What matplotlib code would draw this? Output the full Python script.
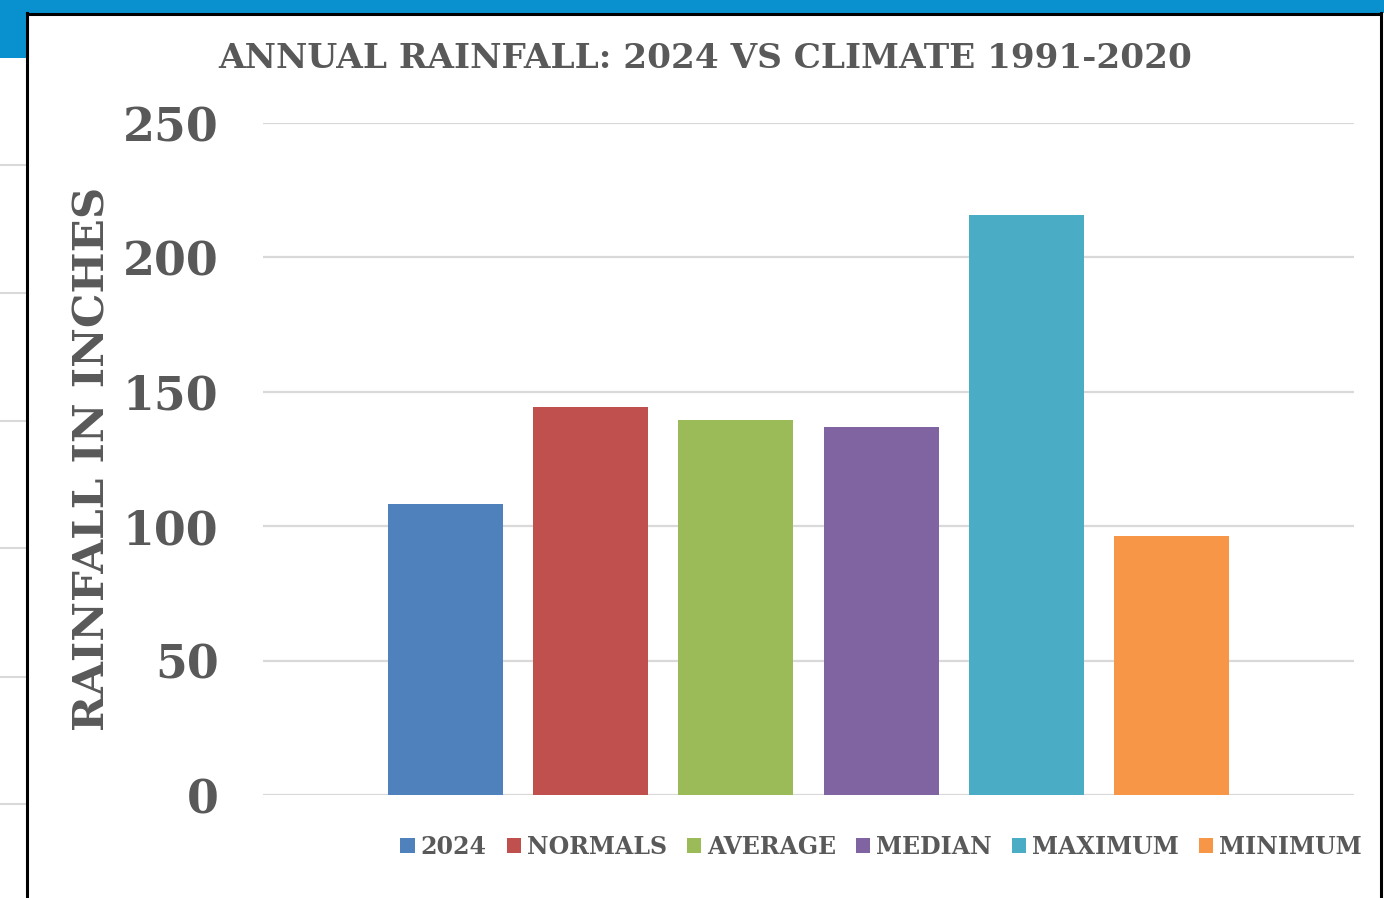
import matplotlib
matplotlib.use("Agg")
import matplotlib.pyplot as plt
from matplotlib.patches import Rectangle
from matplotlib.lines import Line2D

series = ["2024", "NORMALS", "AVERAGE", "MEDIAN", "MAXIMUM", "MINIMUM"]
rainfall = [108.3, 144.3, 139.5, 136.9, 215.8, 96.4]
colors = ["#4F81BD", "#C0504D", "#9BBB59", "#8064A2", "#4BACC6", "#F79646"]
yticks = [0, 50, 100, 150, 200, 250]

TXT = "#595959"
FONT = "DejaVu Serif"

W, H = 1384, 898
fig = plt.figure(figsize=(W / 100, H / 100), dpi=100)
fig.patch.set_facecolor("white")

# screenshot surroundings: blue band and black chart frame
fig.add_artist(Rectangle((0, 1 - 13 / H), 1, 13 / H, transform=fig.transFigure,
                         facecolor="#0891CE", edgecolor="none", zorder=0))
fig.add_artist(Rectangle((0, 1 - 58 / H), 26 / W, 58 / H, transform=fig.transFigure,
                         facecolor="#0891CE", edgecolor="none", zorder=0))
for yy in [165, 293, 421, 548, 677, 804]:
    fig.add_artist(Line2D([0, 26 / W], [1 - yy / H, 1 - yy / H], transform=fig.transFigure,
                          color="#d9d9d9", lw=1.5))
fig.add_artist(Line2D([27 / W, 27 / W], [0, 1 - 13 / H], transform=fig.transFigure,
                      color="black", lw=2.2))
fig.add_artist(Line2D([1381 / W, 1381 / W], [0, 1 - 13 / H], transform=fig.transFigure,
                      color="black", lw=2.2))
fig.add_artist(Line2D([27 / W, 1381 / W], [1 - 14 / H, 1 - 14 / H], transform=fig.transFigure,
                      color="black", lw=2.2))

ax = fig.add_axes([263 / W, (H - 795) / H, 1091 / W, 672 / H])
x = list(range(len(series)))
bars = ax.bar(x, rainfall, width=0.792, color=colors, zorder=3)
ax.set_xlim(-1.257, 6.257)
ax.set_ylim(0, 250)
ax.set_yticks(yticks)
ax.set_yticklabels([str(t) for t in yticks], fontsize=33, fontweight="bold",
                   family=FONT, color=TXT)
ax.tick_params(axis="y", length=0, pad=32)
ax.set_xticks([])
ax.grid(axis="y", color="#d9d9d9", lw=1.6, zorder=0)
for s in ax.spines.values():
    s.set_visible(False)

fig.text(705 / W, 1 - 58 / H, "ANNUAL RAINFALL: 2024 VS CLIMATE 1991-2020",
         ha="center", va="center", fontsize=24.7, fontweight="bold", family=FONT, color=TXT)
fig.text(93 / W, 1 - 459 / H, "RAINFALL IN INCHES", rotation=90,
         ha="center", va="center", fontsize=31.3, fontweight="bold", family=FONT, color=TXT)

leg = fig.legend(bars, series, loc="center", bbox_to_anchor=(881 / W, 1 - 847 / H),
                 ncol=6, frameon=False, handlelength=0.6, handleheight=0.6,
                 handletextpad=0.25, columnspacing=0.85,
                 prop={"family": FONT, "weight": "bold", "size": 17})
for t in leg.get_texts():
    t.set_color(TXT)

fig.savefig("out.png", dpi=100)
